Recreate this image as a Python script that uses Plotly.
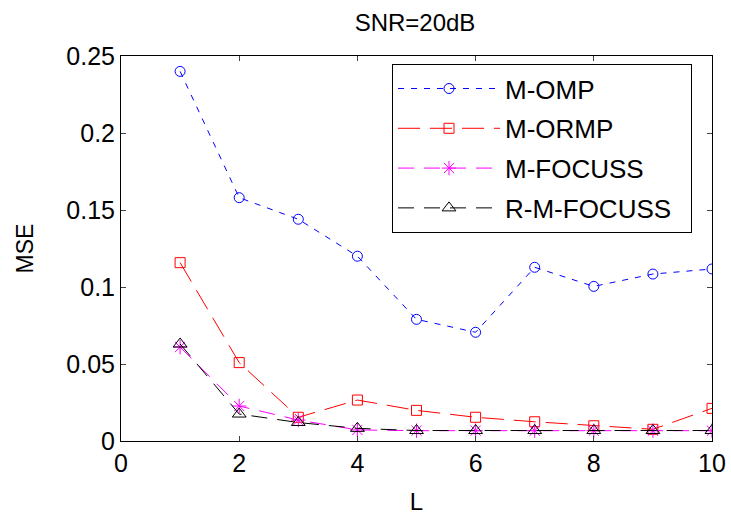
import plotly.graph_objects as go

L = [1, 2, 3, 4, 5, 6, 7, 8, 9, 10]
m_omp = [0.240, 0.158, 0.144, 0.120, 0.079, 0.0706, 0.1128, 0.1004, 0.1084, 0.1117]
m_ormp = [0.1158, 0.0509, 0.0154, 0.0266, 0.0199, 0.0154, 0.0125, 0.0099, 0.0076, 0.0212]
m_focuss = [0.061, 0.0227, 0.0136, 0.0072, 0.0067, 0.0067, 0.0067, 0.0067, 0.0067, 0.0067]
r_m_focuss = [0.063, 0.0175, 0.0120, 0.0082, 0.0068, 0.0068, 0.0068, 0.0068, 0.0068, 0.0068]
names = ["M-OMP", "M-ORMP", "M-FOCUSS", "R-M-FOCUSS\u00a0\u00a0"]

FONT = "Liberation Sans, Arial, sans-serif"

fig = go.Figure()
fig.add_trace(go.Scatter(x=L, y=m_omp, name=names[0], mode="lines+markers",
                         line=dict(color="#0000ff", width=1, dash="6px,7px"),
                         marker=dict(symbol="circle-open", size=10, color="#0000ff", line=dict(width=1)),
                         legendgroup="a"))
fig.add_trace(go.Scatter(x=L, y=m_ormp, name=names[1], mode="lines+markers",
                         line=dict(color="#ff0000", width=1, dash="22px,10px"),
                         marker=dict(symbol="square-open", size=10, color="#ff0000", line=dict(width=1)),
                         legendgroup="b"))
fig.add_trace(go.Scatter(x=L, y=m_focuss, name=names[2], mode="lines+markers",
                         line=dict(color="#ff00ff", width=1, dash="16px,10px"),
                         marker=dict(symbol="asterisk-open", size=12, color="#ff00ff", line=dict(width=1, color="#ff00ff")),
                         legendgroup="c"))
fig.add_trace(go.Scatter(x=L, y=r_m_focuss, name=names[3], mode="lines+markers",
                         line=dict(color="#000000", width=1, dash="16px,10px"),
                         marker=dict(symbol="triangle-up-open", size=12, color="#000000", line=dict(width=1)),
                         legendgroup="d"))

fig.update_layout(
    width=731, height=515,
    margin=dict(l=121, r=19, t=56, b=74),
    paper_bgcolor="white", plot_bgcolor="white",
    font=dict(family=FONT, size=25, color="black"),
    title=dict(text="SNR=20dB", x=415 / 731, xanchor="center", y=1 - 23 / 515, yanchor="middle",
               font=dict(size=24, family=FONT)),
    showlegend=True,
    legend=dict(x=(392 - 121) / 591, y=0.979, xanchor="left", yanchor="top",
                bordercolor="black", borderwidth=1, bgcolor="white",
                font=dict(size=26, family=FONT), tracegroupgap=3,
                itemwidth=102),
    xaxis=dict(range=[0, 10], tickvals=[0, 2, 4, 6, 8, 10], ticks="inside", ticklen=5,
               showline=True, linecolor="black", linewidth=1, mirror="ticks", automargin=False,
               showgrid=False, zeroline=False, title=dict(text="L", standoff=18, font=dict(size=24))),
    yaxis=dict(range=[0, 0.25], tickvals=[0, 0.05, 0.1, 0.15, 0.2, 0.25],
               ticktext=["0", "0.05", "0.1", "0.15", "0.2", "0.25"],
               ticks="inside", ticklen=5, automargin=False,
               showline=True, linecolor="black", linewidth=1, mirror="ticks",
               showgrid=False, zeroline=False, title=dict(text="MSE", standoff=26, font=dict(size=23))),
)

fig.write_html("out.html")
